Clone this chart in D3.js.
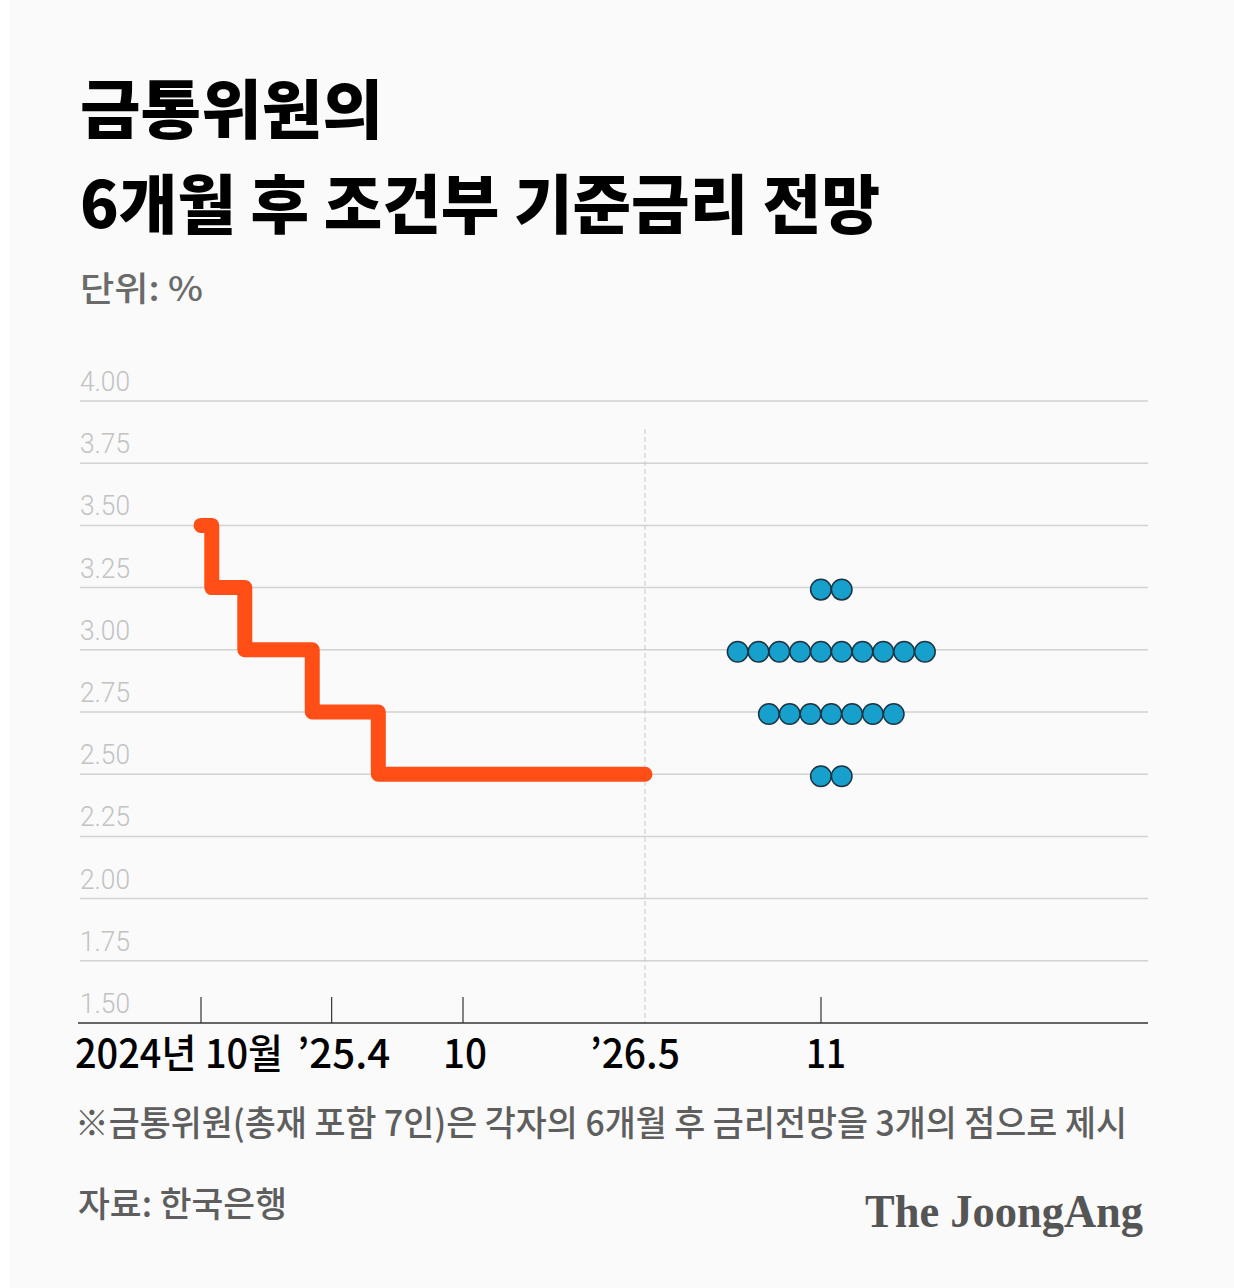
<!DOCTYPE html>
<html>
<head>
<meta charset="utf-8">
<script src="https://cdn.jsdelivr.net/npm/d3@7"></script>
<style>
  html, body { margin: 0; padding: 0; background: #fafafa; }
  svg { display: block; }
</style>
</head>
<body>
<div id="chart"></div>
<script>

  // ---- data ----
  var stepDates  = ["2024-10-01", "2024-10-16", "2024-12-01", "2025-03-05", "2025-06-05", "2026-05-01"];
  var stepRates  = [3.50, 3.25, 3.00, 2.75, 2.50, 2.50];

  var dotDate    = "2026-11-01";
  var dotRates   = [3.25, 3.00, 2.75, 2.50];
  var dotCounts  = [2, 10, 7, 2];

  var yTicks     = [1.50, 1.75, 2.00, 2.25, 2.50, 2.75, 3.00, 3.25, 3.50, 3.75, 4.00];
  var tickDates  = ["2024-10-01", "2025-04-01", "2025-10-01", "2026-11-01"];
  var labelDates = ["2024-10-01", "2025-04-01", "2025-10-01", "2026-05-01", "2026-11-01"];
  var labelTexts = ["2024년 10월", "’25.4", "10", "’26.5", "11"];
  var splitDate  = "2026-05-01";

  // ---- layout ----
  var W = 1234, H = 1288;
  var dims = {
    left: 80, right: 1148,
    top: 401, bottom: 1023,
    xBreaks: [201, 463, 645, 821]
  };
  var parse = d3.timeParse("%Y-%m-%d");

  var svg = d3.select("#chart").append("svg")
      .attr("width", W)
      .attr("height", H);

  svg.append("rect").attr("width", W).attr("height", H).attr("fill", "#fafafa");
  svg.append("rect").attr("width", 10).attr("height", H).attr("fill", "#ffffff");

  // piecewise time scale: history part and projection part are spaced differently
  var x = d3.scaleTime()
      .domain(["2024-10-01", "2025-10-01", "2026-05-01", "2026-11-01"].map(parse))
      .range(dims.xBreaks);

  var y = d3.scaleLinear()
      .domain([1.5, 4.0])
      .range([dims.bottom, dims.top]);

  var korean = "'Noto Sans CJK KR', 'Noto Sans', sans-serif";

  // ---- titles ----
  function txt(s, xx, yy, size, weight, color, len) {
    var t = svg.append("text")
      .attr("x", xx).attr("y", yy)
      .attr("font-family", korean)
      .attr("font-size", size)
      .attr("font-weight", weight)
      .attr("fill", color)
      .text(s);
    if (len) t.attr("textLength", len).attr("lengthAdjust", "spacingAndGlyphs");
    return t;
  }

  txt("금통위원의", 80, 133, 64, 900, "#000", 303);
  txt("6개월 후 조건부 기준금리 전망", 80, 228, 64, 900, "#000", 800);
  txt("단위: %", 80, 301, 34, 500, "#6b6b6b", 123);

  // ---- grid ----
  var grid = svg.append("g").attr("class", "grid");

  grid.selectAll("line")
      .data(yTicks.filter(function(d){ return d > 1.5; }))
      .enter().append("line")
      .attr("x1", dims.left).attr("x2", dims.right)
      .attr("y1", function(d){ return y(d); })
      .attr("y2", function(d){ return y(d); })
      .attr("stroke", "#d2d2d2")
      .attr("stroke-width", 1.5);

  grid.selectAll("text")
      .data(yTicks)
      .enter().append("text")
      .attr("x", dims.left)
      .attr("y", function(d){ return y(d) - 10; })
      .attr("font-family", "Roboto, 'Liberation Sans', sans-serif")
      .attr("font-size", 28)
      .attr("font-weight", 300)
      .attr("fill", "#c2c2c2")
      .attr("textLength", 50)
      .attr("lengthAdjust", "spacingAndGlyphs")
      .text(function(d){ return d3.format(".2f")(d); });

  // dashed divider between actual and outlook
  svg.append("line")
      .attr("x1", x(parse(splitDate))).attr("x2", x(parse(splitDate)))
      .attr("y1", 429).attr("y2", dims.bottom)
      .attr("stroke", "#c8c8c8")
      .attr("stroke-width", 1)
      .attr("stroke-dasharray", "5,3");

  // ---- x axis ----
  var axis = svg.append("g").attr("class", "x-axis");

  axis.append("line")
      .attr("x1", dims.left - 2).attr("x2", dims.right)
      .attr("y1", dims.bottom).attr("y2", dims.bottom)
      .attr("stroke", "#333")
      .attr("stroke-width", 1.5);

  axis.selectAll(".tick")
      .data(tickDates.map(parse))
      .enter().append("line")
      .attr("class", "tick")
      .attr("x1", function(d){ return x(d); })
      .attr("x2", function(d){ return x(d); })
      .attr("y1", dims.bottom)
      .attr("y2", dims.bottom - 26)
      .attr("stroke", "#333")
      .attr("stroke-width", 1.2);

  var labelLens = [208, 93, 44, 90, 40];
  var labelShift = [-22, 12, 2, -10, 5];
  axis.selectAll(".label")
      .data(labelTexts)
      .enter().append("text")
      .attr("class", "label")
      .attr("x", function(d, i){ return x(parse(labelDates[i])) + labelShift[i] - labelLens[i] / 2; })
      .attr("y", 1068)
      .attr("font-family", korean)
      .attr("font-size", 40)
      .attr("font-weight", 500)
      .attr("fill", "#000")
      .attr("textLength", function(d, i){ return labelLens[i]; })
      .attr("lengthAdjust", "spacingAndGlyphs")
      .text(function(d){ return d; });

  // ---- base rate step line ----
  var line = d3.line()
      .x(function(d){ return x(d.date); })
      .y(function(d){ return y(d.rate); })
      .curve(d3.curveStepAfter);

  var stepData = stepDates.map(function(d, i){ return {date: parse(d), rate: stepRates[i]}; });

  svg.append("path")
      .datum(stepData)
      .attr("d", line)
      .attr("fill", "none")
      .attr("stroke", "#ff4f17")
      .attr("stroke-width", 15)
      .attr("stroke-linecap", "round")
      .attr("stroke-linejoin", "round");

  // ---- dot plot ----
  var r = 10.3, gap = 20.8;
  var dots = [];
  dotRates.forEach(function(rate, j){
    var n = dotCounts[j];
    for (var i = 0; i < n; i++) dots.push({rate: rate, i: i, n: n});
  });

  var cx0 = x(parse(dotDate)) + r;
  svg.append("g").selectAll("circle")
      .data(dots)
      .enter().append("circle")
      .attr("cx", function(d){ return cx0 + (d.i - (d.n - 1) / 2) * gap; })
      .attr("cy", function(d){ return y(d.rate) + 2; })
      .attr("r", r)
      .attr("fill", "#17a0cc")
      .attr("stroke", "#1c3444")
      .attr("stroke-width", 1.5);

  // ---- notes ----
  txt("※금통위원(총재 포함 7인)은 각자의 6개월 후 금리전망을 3개의 점으로 제시", 75, 1136, 35, 500, "#5e5e5e", 1052);
  txt("자료: 한국은행", 78, 1217, 35, 500, "#5e5e5e", 209);

  svg.append("text")
      .attr("x", 865).attr("y", 1227)
      .attr("font-family", "'Liberation Serif', 'DejaVu Serif', serif")
      .attr("font-size", 46)
      .attr("font-weight", 700)
      .attr("fill", "#555")
      .attr("textLength", 278)
      .attr("lengthAdjust", "spacingAndGlyphs")
      .text("The JoongAng");

</script>
</body>
</html>
